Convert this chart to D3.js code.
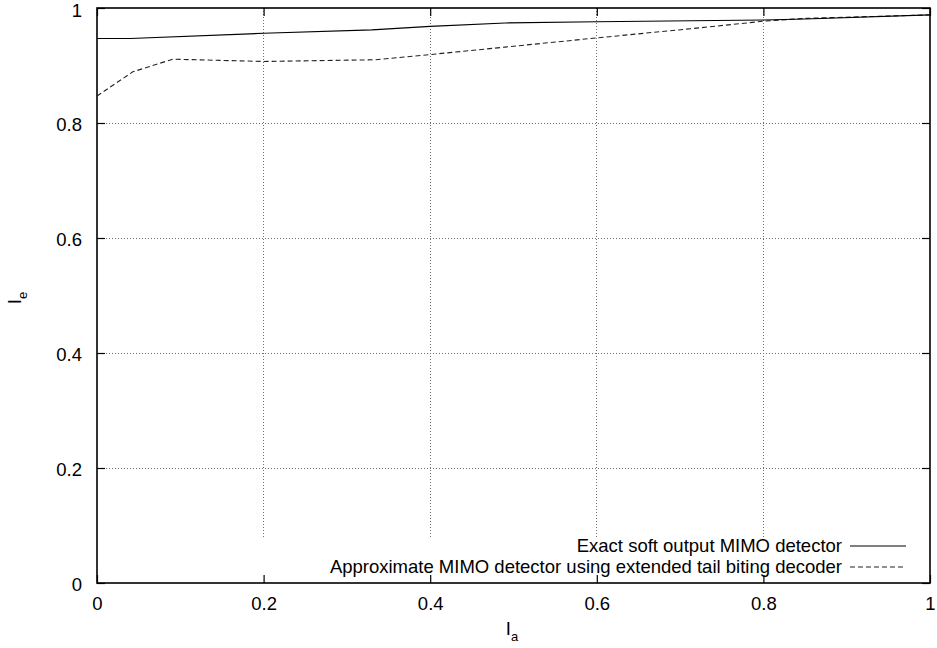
<!DOCTYPE html>
<html><head><meta charset="utf-8">
<script src="https://cdn.jsdelivr.net/npm/d3@7/dist/d3.min.js"></script>
<style>body{margin:0;background:#fff}svg{display:block}text{font-family:"Liberation Sans",Arial,sans-serif;}</style>
</head><body><svg id="c" width="937" height="648"></svg>
<script>
const xTicks = [0, 0.2, 0.4, 0.6, 0.8, 1];
const yTicks = [0, 0.2, 0.4, 0.6, 0.8, 1];
const xTickLabels = ["0", "0.2", "0.4", "0.6", "0.8", "1"];
const yTickLabels = ["0", "0.2", "0.4", "0.6", "0.8", "1"];
const exactX = [0, 0.04, 0.2, 0.33, 0.4, 0.49, 0.6, 0.8, 0.85, 1];
const exactY = [0.947, 0.947, 0.956, 0.962, 0.968, 0.974, 0.976, 0.979, 0.981, 0.988];
const approxX = [0, 0.043, 0.091, 0.2, 0.335, 0.4, 0.49, 0.6, 0.72, 0.8, 0.85, 1];
const approxY = [0.847, 0.889, 0.911, 0.907, 0.910, 0.919, 0.932, 0.948, 0.965, 0.977, 0.982, 0.988];
const seriesNames = ["Exact soft output MIMO detector", "Approximate MIMO detector using extended tail biting decoder"];

const FS = 18.5;
const L = 97, R = 930, T = 8, B = 583;
const svg = d3.select("#c");
const x = d3.scaleLinear().domain([0, 1]).range([L, R]);
const y = d3.scaleLinear().domain([0, 1]).range([B, T]);

// grid
const g = svg.append("g");
g.selectAll("line.gx").data(xTicks.slice(1, -1)).enter().append("line")
  .attr("x1", d => x(d)).attr("x2", d => x(d)).attr("y1", T).attr("y2", B)
  .attr("stroke", "#707070").attr("stroke-width", 1).attr("stroke-dasharray", "1,2").attr("shape-rendering", "crispEdges");
g.selectAll("line.gy").data(yTicks.slice(1, -1)).enter().append("line")
  .attr("y1", d => y(d)).attr("y2", d => y(d)).attr("x1", L).attr("x2", R)
  .attr("stroke", "#707070").attr("stroke-width", 1).attr("stroke-dasharray", "1,2").attr("shape-rendering", "crispEdges");

// opaque key area
svg.append("rect").attr("x", L + 1).attr("y", 537).attr("width", R - L - 2).attr("height", B - 537 - 1).attr("fill", "#fff");

// axes with ticks (inward, mirrored)
const tl = 8;
svg.append("g").attr("transform", `translate(0,${B})`)
  .call(d3.axisBottom(x).tickValues(xTicks).tickSizeInner(-tl).tickSizeOuter(0).tickPadding(14).tickFormat((d, i) => xTickLabels[i]))
  .call(s => s.select(".domain").remove());
svg.append("g").attr("transform", `translate(0,${T})`)
  .call(d3.axisTop(x).tickValues(xTicks).tickSizeInner(-tl).tickSizeOuter(0).tickFormat(""))
  .call(s => s.select(".domain").remove());
const yAxis = svg.append("g").attr("transform", `translate(${L},0)`)
  .call(d3.axisLeft(y).tickValues(yTicks).tickSizeInner(-tl).tickSizeOuter(0).tickPadding(15).tickFormat((d, i) => yTickLabels[i]))
  .call(s => s.select(".domain").remove());
yAxis.selectAll(".tick text").attr("dy", d => d === 1 ? "0.48em" : "0.42em");
svg.append("g").attr("transform", `translate(${R},0)`)
  .call(d3.axisRight(y).tickValues(yTicks).tickSizeInner(-tl).tickSizeOuter(0).tickFormat(""))
  .call(s => s.select(".domain").remove());
svg.selectAll(".tick line").attr("stroke", "#000").attr("stroke-width", 1.2);
svg.selectAll(".tick text").attr("font-size", FS).attr("fill", "#000").attr("font-family", "Liberation Sans, Arial, sans-serif");

// border
svg.append("rect").attr("x", L).attr("y", T).attr("width", R - L).attr("height", B - T)
  .attr("fill", "none").attr("stroke", "#000").attr("stroke-width", 1.6);

// series
const line = d3.line().x(d => x(d[0])).y(d => y(d[1]));
const exact = exactX.map((v, i) => [v, exactY[i]]);
const approx = approxX.map((v, i) => [v, approxY[i]]);
svg.append("path").datum(approx).attr("d", line).attr("fill", "none")
  .attr("stroke", "#222").attr("stroke-width", 1.1).attr("stroke-dasharray", "5,3");
svg.append("path").datum(exact).attr("d", line).attr("fill", "none")
  .attr("stroke", "#000").attr("stroke-width", 1.1);

// legend
const styles = [{dash: null}, {dash: "5,3"}];
seriesNames.forEach((n, i) => {
  const yy = 546 + i * 21;
  svg.append("text").attr("x", 842).attr("y", yy).attr("dy", "0.35em").attr("text-anchor", "end")
    .attr("font-size", FS).text(n);
  const l = svg.append("line").attr("x1", 850).attr("x2", 906).attr("y1", yy).attr("y2", yy)
    .attr("stroke", i ? "#222" : "#000").attr("stroke-width", 1.1);
  if (styles[i].dash) l.attr("stroke-dasharray", styles[i].dash);
});

// axis labels
const xl = svg.append("text").attr("x", 512).attr("y", 635).attr("font-size", FS).attr("text-anchor", "middle");
xl.append("tspan").text("I");
xl.append("tspan").attr("font-size", 13).attr("dy", 6).text("a");
const yl = svg.append("text").attr("transform", "translate(21,298) rotate(-90)").attr("font-size", FS).attr("text-anchor", "middle");
yl.append("tspan").text("I");
yl.append("tspan").attr("font-size", 13).attr("dy", 6).text("e");
</script></body></html>
